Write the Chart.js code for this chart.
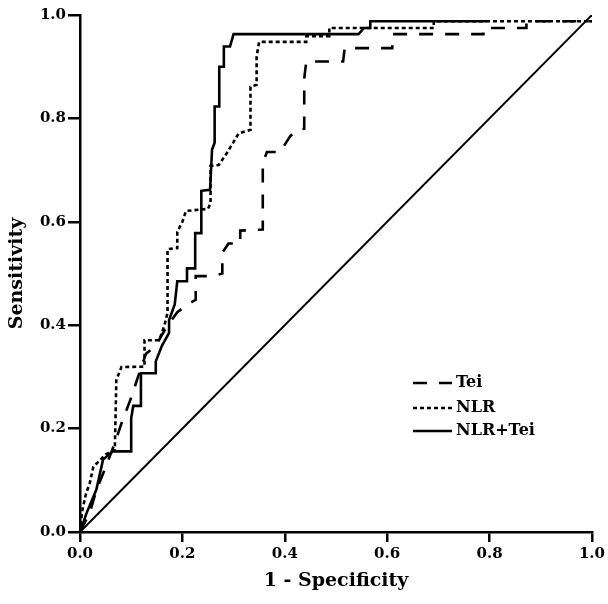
<!DOCTYPE html>
<html lang="en">
<head>
  <meta charset="UTF-8">
  <title>ROC curves</title>
  <style>
    html, body {
      margin: 0;
      padding: 0;
      background: #ffffff;
    }
    .chart-container {
      width: 608px;
      height: 604px;
    }
  </style>
</head>
<body>
  <div class="chart-container">
    <canvas id="rocChart"></canvas>
  </div>

  <script src="https://cdn.jsdelivr.net/npm/chart.js"></script>
  <script>
    // ROC curve vertices (1 - specificity, sensitivity)
    const teiX = [0, 0.019, 0.032, 0.048, 0.068, 0.081, 0.10, 0.12, 0.129, 0.148, 0.168, 0.19, 0.21, 0.226, 0.226, 0.258, 0.278, 0.278, 0.29, 0.313, 0.313, 0.357, 0.357, 0.365, 0.391, 0.41, 0.422, 0.438, 0.438, 0.442, 0.514, 0.517, 0.61, 0.61, 0.788, 0.788, 0.872, 0.872, 1.0];
    const teiY = [0, 0.037, 0.081, 0.12, 0.172, 0.21, 0.26, 0.32, 0.345, 0.36, 0.395, 0.425, 0.44, 0.449, 0.495, 0.495, 0.50, 0.54, 0.558, 0.558, 0.583, 0.585, 0.713, 0.735, 0.735, 0.765, 0.777, 0.78, 0.877, 0.91, 0.91, 0.936, 0.936, 0.963, 0.963, 0.975, 0.975, 0.988, 0.988];

    const nlrX = [0, 0.004, 0.012, 0.019, 0.026, 0.05, 0.068, 0.071, 0.081, 0.126, 0.126, 0.155, 0.165, 0.171, 0.171, 0.19, 0.19, 0.20, 0.207, 0.25, 0.255, 0.255, 0.271, 0.287, 0.31, 0.333, 0.333, 0.345, 0.345, 0.35, 0.442, 0.442, 0.487, 0.487, 0.691, 0.691, 1.0];
    const nlrY = [0, 0.04, 0.075, 0.094, 0.126, 0.15, 0.159, 0.294, 0.319, 0.320, 0.371, 0.371, 0.40, 0.424, 0.547, 0.549, 0.58, 0.60, 0.621, 0.625, 0.636, 0.708, 0.71, 0.733, 0.771, 0.778, 0.861, 0.865, 0.92, 0.948, 0.948, 0.959, 0.959, 0.975, 0.975, 0.988, 0.988];

    const comboX = [0, 0.013, 0.032, 0.045, 0.064, 0.10, 0.10, 0.104, 0.119, 0.119, 0.148, 0.148, 0.16, 0.174, 0.174, 0.185, 0.19, 0.209, 0.209, 0.225, 0.225, 0.237, 0.237, 0.254, 0.258, 0.263, 0.263, 0.272, 0.272, 0.281, 0.281, 0.293, 0.30, 0.544, 0.555, 0.567, 0.567, 0.795];
    const comboY = [0, 0.037, 0.082, 0.14, 0.156, 0.156, 0.22, 0.244, 0.244, 0.307, 0.307, 0.33, 0.36, 0.385, 0.41, 0.44, 0.485, 0.485, 0.51, 0.51, 0.578, 0.578, 0.660, 0.662, 0.74, 0.753, 0.823, 0.823, 0.90, 0.90, 0.939, 0.939, 0.963, 0.963, 0.975, 0.975, 0.988, 0.988];

    const refX = [0, 1];
    const refY = [0, 1];

    const seriesNames = ['Tei', 'NLR', 'NLR+Tei'];
    const tickValues = [0, 0.2, 0.4, 0.6, 0.8, 1.0];

    const toPoints = (xs, ys) => xs.map((x, i) => ({ x: x, y: ys[i] }));

    const titleFont = { family: '"DejaVu Serif", serif', size: 19, weight: 'bold' };
    const tickFont = { family: '"DejaVu Serif", serif', size: 15, weight: 'bold' };

    // Legend drawn inside the plot, lower right
    const insideLegend = {
      id: 'insideLegend',
      afterDatasetsDraw(chart) {
        const ctx = chart.ctx;
        const x0 = 413, x1 = 452, textX = 456;
        const rows = [383, 408, 431];
        ctx.save();
        ctx.font = 'bold 16px "DejaVu Serif", serif';
        ctx.fillStyle = '#000';
        ctx.textBaseline = 'middle';
        for (let i = 0; i < 3; i++) {
          const ds = chart.data.datasets[i];
          ctx.strokeStyle = '#000';
          ctx.lineWidth = ds.borderWidth;
          ctx.setLineDash(ds.borderDash || []);
          ctx.beginPath();
          ctx.moveTo(x0, rows[i]);
          ctx.lineTo(x1, rows[i]);
          ctx.stroke();
          ctx.setLineDash([]);
          ctx.fillText(seriesNames[i], textX, rows[i]);
        }
        ctx.restore();
      }
    };

    const ctx = document.getElementById('rocChart').getContext('2d');
    new Chart(ctx, {
      type: 'scatter',
      data: {
        datasets: [
          {
            label: seriesNames[0],
            data: toPoints(teiX, teiY),
            showLine: true,
            borderColor: '#000',
            borderWidth: 2.6,
            borderDash: [14, 12],
            pointRadius: 0,
            tension: 0
          },
          {
            label: seriesNames[1],
            data: toPoints(nlrX, nlrY),
            showLine: true,
            borderColor: '#000',
            borderWidth: 2.6,
            borderDash: [4, 3],
            pointRadius: 0,
            tension: 0
          },
          {
            label: seriesNames[2],
            data: toPoints(comboX, comboY),
            showLine: true,
            borderColor: '#000',
            borderWidth: 2.6,
            pointRadius: 0,
            tension: 0
          },
          {
            label: 'Reference',
            data: toPoints(refX, refY),
            showLine: true,
            borderColor: '#000',
            borderWidth: 2,
            pointRadius: 0,
            tension: 0
          }
        ]
      },
      options: {
        responsive: true,
        maintainAspectRatio: false,
        animation: false,
        layout: { padding: { top: 15, right: 12, left: 0, bottom: 0 } },
        plugins: {
          legend: { display: false },
          tooltip: { enabled: false }
        },
        scales: {
          x: {
            type: 'linear',
            min: 0,
            max: 1,
            afterBuildTicks: (scale) => { scale.ticks = tickValues.map(v => ({ value: v })); },
            afterFit: (scale) => { scale.height = 72; },
            border: { display: true, color: '#000', width: 2.5 },
            grid: { drawOnChartArea: false, drawTicks: true, tickLength: 10, color: '#000', lineWidth: 2.5 },
            ticks: {
              color: '#000',
              font: tickFont,
              padding: 3,
              maxRotation: 0,
              callback: (v) => Number(v).toFixed(1)
            },
            title: {
              display: true,
              text: '1 - Specificity',
              color: '#000',
              font: titleFont,
              padding: { top: 10, bottom: 12 }
            }
          },
          y: {
            type: 'linear',
            min: 0,
            max: 1,
            afterBuildTicks: (scale) => { scale.ticks = tickValues.map(v => ({ value: v })); },
            afterFit: (scale) => { scale.width = 80; },
            border: { display: true, color: '#000', width: 2.5 },
            grid: { drawOnChartArea: false, drawTicks: true, tickLength: 12, color: '#000', lineWidth: 2.5 },
            ticks: {
              color: '#000',
              font: tickFont,
              padding: 2,
              callback: (v) => Number(v).toFixed(1)
            },
            title: {
              display: true,
              text: 'Sensitivity',
              color: '#000',
              font: titleFont,
              padding: { top: 6, bottom: 6 }
            }
          }
        }
      },
      plugins: [insideLegend]
    });
  </script>
</body>
</html>
